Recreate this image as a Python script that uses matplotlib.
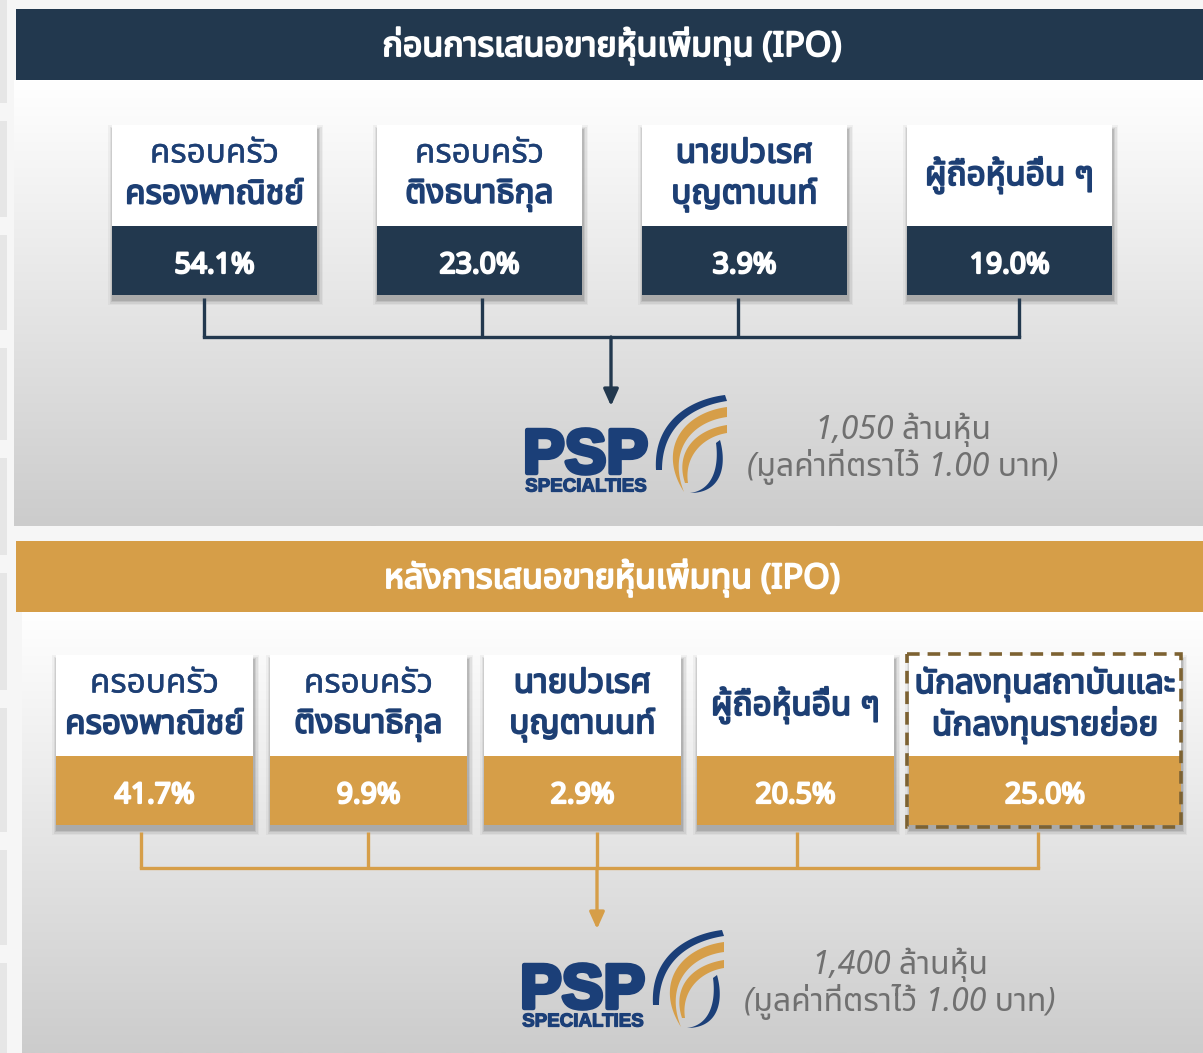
import numpy as np
import matplotlib
matplotlib.use("Agg")
import matplotlib.pyplot as plt
import matplotlib.patheffects as pe
from matplotlib import font_manager
from matplotlib.ft2font import FT2Font
from matplotlib.patches import Rectangle

# ข้อมูล
before_title = "ก่อนการเสนอขายหุ้นเพิ่มทุน (IPO)"
after_title = "หลังการเสนอขายหุ้นเพิ่มทุน (IPO)"
before_line1 = ["ครอบครัว", "ครอบครัว", "นายปวเรศ", ""]
before_line2 = ["ครองพาณิชย์", "ติงธนาธิกุล", "บุญตานนท์", "ผู้ถือหุ้นอื่น ๆ"]
before_pct = [54.1, 23.0, 3.9, 19.0]
after_line1 = ["ครอบครัว", "ครอบครัว", "นายปวเรศ", "", "นักลงทุนสถาบันและ"]
after_line2 = ["ครองพาณิชย์", "ติงธนาธิกุล", "บุญตานนท์", "ผู้ถือหุ้นอื่น ๆ", "นักลงทุนรายย่อย"]
after_pct = [41.7, 9.9, 2.9, 20.5, 25.0]
shares_before = "1,050 ล้านหุ้น"
shares_after = "1,400 ล้านหุ้น"
par_text = "(มูลค่าที่ตราไว้ 1.00 บาท)"

NAVY = "#22384e"
GOLD = "#d69e48"
LABEL = "#1d3f74"
LOGO_BLUE = "#1b3f78"


def find_thai_font():
    names = []
    for f in font_manager.fontManager.ttflist:
        try:
            if 0x0E01 in FT2Font(f.fname).get_charmap():
                names.append(f.name)
        except Exception:
            pass
    for pref in ["Noto Sans Thai", "Noto Sans Thai Looped", "Sarabun", "Kanit", "Prompt"]:
        if pref in names:
            return pref
    return names[0] if names else "DejaVu Sans"


THAI = find_thai_font()
plt.rcParams["font.family"] = [THAI, "DejaVu Sans"]


def bold(color, w=1.1):
    # ฟอนต์ไทยไม่มีตัวหนา เลยเติมเส้นขอบให้ดูหนาขึ้น
    return [pe.withStroke(linewidth=w, foreground=color)]


fig = plt.figure(figsize=(12.03, 10.53), dpi=100)
ax = fig.add_axes([0, 0, 1, 1])
ax.set_xlim(0, 1203)
ax.set_ylim(1053, 0)
ax.axis("off")
fig.patch.set_facecolor("#f6f6f6")

# แถบด้านซ้าย
for y0, y1 in [(0, 103), (121, 217), (235, 330), (348, 440), (458, 555), (573, 690), (708, 832), (850, 945), (963, 1053)]:
    ax.add_patch(Rectangle((0, y0), 7, y1 - y0, color="#e6e6e6", lw=0))


def gradient(x0, x1, y0, y1, c_top=1.0, c_bot=0.80):
    g = np.linspace(c_top, c_bot, 200).reshape(-1, 1)
    ax.imshow(np.dstack([g, g, g]), extent=(x0, x1, y1, y0), aspect="auto", zorder=0)


def shadow(x, y, w, h):
    for d, a in [(10, 0.04), (7, 0.06), (4, 0.08), (2, 0.10)]:
        ax.add_patch(Rectangle((x - d / 2 + 1, y + 5 - d / 2), w + d, h + d,
                               color="black", alpha=a, lw=0, zorder=1))


def bez(p, n=60):
    p = np.array(p, dtype=float)
    t = np.linspace(0, 1, n)[:, None]
    return ((1 - t) ** 3 * p[0] + 3 * (1 - t) ** 2 * t * p[1]
            + 3 * (1 - t) * t ** 2 * p[2] + t ** 3 * p[3])


def logo(ox, oy):
    ax.text(ox + 1, oy + 78, "PSP", fontsize=45, fontweight="bold", color=LOGO_BLUE,
            family=["Liberation Sans", "DejaVu Sans"], ha="left", va="baseline", zorder=3,
            path_effects=bold(LOGO_BLUE, 3.2))
    ax.text(ox + 64, oy + 92, "SPECIALTIES", fontsize=13.5, fontweight="bold", color=LOGO_BLUE,
            family=["Liberation Sans", "DejaVu Sans"], ha="center", va="center", zorder=3,
            path_effects=bold(LOGO_BLUE, 0.9))

    def band(outer, inner, color):
        a = bez([(ox + x, oy + y) for x, y in outer])
        b = bez([(ox + x, oy + y) for x, y in inner])[::-1]
        pts = np.vstack([a, b])
        ax.fill(pts[:, 0], pts[:, 1], color=color, lw=0, zorder=3)

    band([(203, 0), (170, 4), (131, 25), (134, 75)],
         [(205, 6), (172, 11), (140, 30), (140, 75)], LOGO_BLUE)
    band([(205, 12), (160, 18), (135, 55), (162, 97)],
         [(205, 22), (168, 27), (146, 57), (162, 97)], GOLD)
    band([(205, 30), (172, 35), (153, 58), (163, 88)],
         [(205, 38), (180, 42), (162, 62), (166, 88)], GOLD)
    band([(198, 45), (205, 70), (200, 98), (168, 98)],
         [(194, 48), (197, 70), (192, 95), (168, 98)], LOGO_BLUE)


def section(top, head_col, title, x_left, widths, line1, line2, pct,
            box_top, label_h, val_h, conn_xs, conn_y0, conn_y1, arrow_x, arrow_y1,
            logo_xy, text_xy, shares, panel_x0, panel_y1, dashed=None):
    gradient(panel_x0, 1203, top + 71, panel_y1)
    ax.add_patch(Rectangle((16, top), 1187, 71, color=head_col, lw=0, zorder=2))
    ax.text(612, top + 37, title, color="white", fontsize=24.5,
            ha="center", va="center", zorder=3, path_effects=bold("white", 1.4))
    for i, (x, w) in enumerate(zip(x_left, widths)):
        shadow(x, box_top, w, label_h + val_h)
        ax.add_patch(Rectangle((x, box_top), w, label_h, color="white", lw=0, zorder=2))
        ax.add_patch(Rectangle((x, box_top + label_h), w, val_h, color=head_col, lw=0, zorder=2))
        cx = x + w / 2
        if line1[i]:
            ax.text(cx, box_top + 29, line1[i], color=LABEL, fontsize=24,
                    ha="center", va="center", zorder=3,
                    path_effects=bold(LABEL, 1.3 if i >= 2 else 0.3))
            ax.text(cx, box_top + 70, line2[i], color=LABEL, fontsize=24,
                    ha="center", va="center", zorder=3, path_effects=bold(LABEL, 1.3))
        else:
            ax.text(cx, box_top + 50, line2[i], color=LABEL, fontsize=24,
                    ha="center", va="center", zorder=3, path_effects=bold(LABEL, 1.3))
        ax.text(cx, box_top + label_h + val_h / 2 + 5, f"{pct[i]:.1f}%", color="white",
                fontsize=20.5, fontweight="bold", family=["Noto Sans", "DejaVu Sans"],
                ha="center", va="center", zorder=3, path_effects=bold("white", 1.6))
    if dashed is not None:
        ax.add_patch(Rectangle(dashed[:2], dashed[2], dashed[3], fill=False,
                               ec="#7d6232", lw=2.6, ls=(0, (3.5, 2.2)), zorder=4))
    for cx in conn_xs:
        ax.plot([cx, cx], [conn_y0, conn_y1], color=head_col, lw=2.4, zorder=2,
                solid_capstyle="butt")
    ax.plot([conn_xs[0], conn_xs[-1]], [conn_y1, conn_y1], color=head_col, lw=2.4,
            zorder=2, solid_capstyle="projecting")
    ax.annotate("", xy=(arrow_x, arrow_y1), xytext=(arrow_x, conn_y1),
                arrowprops=dict(arrowstyle="-|>,head_length=1.0,head_width=0.45",
                                color=head_col, lw=2.4, shrinkA=0, shrinkB=0), zorder=3)
    logo(*logo_xy)
    fam = ["Noto Sans", THAI, "DejaVu Sans"]
    ax.text(text_xy[0], text_xy[1], shares, color="#707070", fontsize=23,
            style="italic", family=fam, ha="center", va="center", zorder=3)
    ax.text(text_xy[0], text_xy[1] + 37, par_text, color="#707070", fontsize=23,
            style="italic", family=fam, ha="center", va="center", zorder=3)


# ส่วนก่อน IPO
section(9, NAVY, before_title, [112, 377, 642, 907], [205] * 4,
        before_line1, before_line2, before_pct,
        125, 101, 69, [204, 482, 738, 1019], 298, 337, 611, 406,
        (522, 395), (903, 430), shares_before, 14, 526)

# ส่วนหลัง IPO
section(541, GOLD, after_title, [56, 270, 484, 697, 909], [197, 197, 197, 197, 272],
        after_line1, after_line2, after_pct,
        655, 101, 69, [141, 368, 597, 797, 1038], 832, 868, 597, 929,
        (519, 930), (900, 965), shares_after, 22, 1053,
        dashed=(907, 654, 274, 173))

fig.savefig("out.png", dpi=100, facecolor=fig.get_facecolor())
